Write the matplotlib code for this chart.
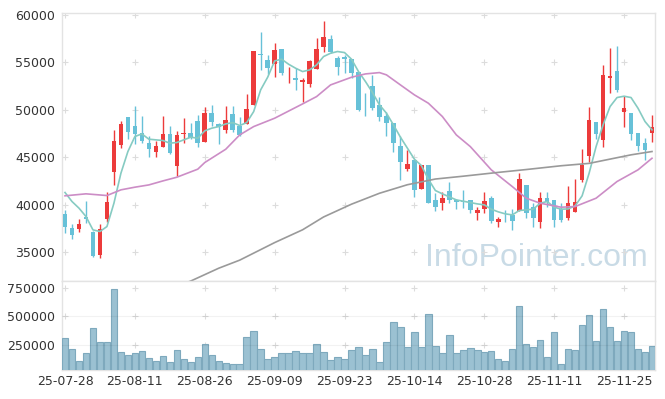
import matplotlib.pyplot as plt
import numpy as np

# trading days (yy-mm-dd)
dates = ['25-07-28', '25-07-29', '25-07-30', '25-07-31', '25-08-01',
         '25-08-04', '25-08-05', '25-08-06', '25-08-07', '25-08-08',
         '25-08-11', '25-08-12', '25-08-13', '25-08-14', '25-08-18',
         '25-08-19', '25-08-20', '25-08-21', '25-08-22', '25-08-25',
         '25-08-26', '25-08-27', '25-08-28', '25-08-29', '25-09-01',
         '25-09-02', '25-09-03', '25-09-04', '25-09-05', '25-09-08',
         '25-09-09', '25-09-10', '25-09-11', '25-09-12', '25-09-15',
         '25-09-16', '25-09-17', '25-09-18', '25-09-19', '25-09-22',
         '25-09-23', '25-09-24', '25-09-25', '25-09-26', '25-09-29',
         '25-09-30', '25-10-01', '25-10-02', '25-10-10', '25-10-13',
         '25-10-14', '25-10-15', '25-10-16', '25-10-17', '25-10-20',
         '25-10-21', '25-10-22', '25-10-23', '25-10-24', '25-10-27',
         '25-10-28', '25-10-29', '25-10-30', '25-10-31', '25-11-03',
         '25-11-04', '25-11-05', '25-11-06', '25-11-07', '25-11-10',
         '25-11-11', '25-11-12', '25-11-13', '25-11-14', '25-11-17',
         '25-11-18', '25-11-19', '25-11-20', '25-11-21', '25-11-24',
         '25-11-25', '25-11-26', '25-11-27', '25-11-28', '25-12-01']

opens = [39050, 37500, 37400, 38700, 37150, 34700, 38450, 43450, 46250, 49250,
         48300, 47500, 46550, 45500, 46100, 47450, 44100, 47400, 47550, 48850,
         46650, 49650, 48500, 47900, 49550, 48250, 48550, 50550, 55850, 55250,
         54800, 56400, 53950, 53350, 52900, 52700, 54250, 56650, 57450, 55450,
         55550, 55350, 54000, 50850, 52500, 50500, 49350, 48600, 46200, 43800,
         44700, 41600, 44200, 40500, 40200, 41400, 40450, 40400, 40450, 39100,
         39500, 40700, 38200, 38400, 38900, 39300, 42100, 39750, 38200, 40700,
         40500, 39500, 38550, 39250, 42650, 45150, 48700, 46800, 53300, 54100,
         49800, 49700, 47600, 46500, 47500]
highs = [39400, 38000, 38450, 40350, 37200, 37950, 41300, 47850, 48800, 49250,
         50400, 49350, 47250, 46700, 49350, 48250, 47800, 49150, 48600, 49500,
         50300, 50500, 48650, 50350, 50350, 49200, 51650, 56200, 58200, 55800,
         57000, 56400, 54500, 54400, 53350, 55250, 57550, 59350, 57900, 55700,
         55800, 55350, 54000, 51750, 53650, 51300, 49800, 48600, 47200, 45800,
         44700, 44200, 44200, 41200, 41300, 42350, 40550, 41500, 40450, 39800,
         41300, 40950, 38750, 39400, 39500, 43300, 42100, 40200, 41300, 41300,
         40500, 40150, 42000, 42700, 45850, 50250, 48700, 54700, 56500, 56750,
         51400, 49700, 47600, 47000, 49450]
lows = [37000, 36350, 37100, 38050, 34500, 34350, 38200, 42050, 46000, 46950,
        46400, 46550, 45050, 45000, 46100, 45300, 43050, 46550, 46900, 46100,
        46650, 48250, 46350, 47550, 47700, 47200, 48550, 50550, 54150, 53800,
        53500, 53650, 52800, 52050, 50800, 52400, 54250, 56050, 55950, 53650,
        53900, 53400, 49900, 49300, 50000, 48850, 47200, 45550, 42600, 43500,
        40800, 41600, 40150, 39300, 39400, 40150, 39500, 39650, 39100, 38400,
        39100, 38100, 37600, 38150, 37350, 39300, 38550, 37600, 37500, 39800,
        37600, 38200, 38400, 39250, 42350, 44450, 46900, 46050, 51750, 51900,
        48150, 46850, 45700, 44700, 46650]
closes = [37600, 36750, 37950, 38450, 34600, 37400, 40300, 46700, 48500, 47650,
          47400, 46750, 45900, 46200, 47450, 45450, 47350, 47550, 47050, 46550,
          49650, 48750, 48200, 48950, 47900, 47350, 50100, 56200, 55750, 54450,
          56300, 53900, 54000, 53100, 53150, 55150, 56400, 57700, 56100, 54550,
          55300, 53900, 50000, 50800, 50150, 49250, 48650, 46450, 44450, 44300,
          41500, 44200, 40200, 39750, 40700, 40450, 40250, 40300, 39450, 39400,
          40350, 38300, 38450, 38350, 38250, 42700, 39100, 38550, 40700, 40250,
          38350, 38400, 40200, 40300, 44200, 48950, 47450, 53700, 53550, 52050,
          50200, 47400, 46200, 45750, 48200]
volumes = [308000, 212000, 110000, 177000, 395000, 273000, 273000, 735000, 186000, 160000,
           177000, 195000, 134000, 108000, 151000, 99000, 204000, 125000, 99000, 143000,
           256000, 160000, 108000, 91000, 82000, 82000, 317000, 369000, 212000, 125000,
           143000, 177000, 177000, 195000, 177000, 177000, 256000, 186000, 118000, 143000,
           125000, 204000, 230000, 160000, 212000, 99000, 273000, 448000, 404000, 230000,
           360000, 230000, 517000, 238000, 177000, 334000, 177000, 204000, 221000, 204000,
           186000, 195000, 125000, 108000, 212000, 587000, 256000, 230000, 291000, 143000,
           360000, 82000, 212000, 206000, 422000, 510000, 283000, 561000, 404000, 283000,
           369000, 362000, 212000, 188000, 238000]

# moving averages
ma5 = [41280, 40330, 39630, 38750, 37340, 37170, 37690, 40150, 43310, 45600,
       47180, 47460, 46900, 46830, 46760, 46480, 46550, 46830, 47110, 47000,
       47780, 48060, 48230, 48510, 48650, 48340, 48650, 49810, 52100, 53430,
       55150, 55330, 54800, 54380, 54030, 54200, 54730, 55610, 55960, 56140,
       56030, 55330, 54030, 52970, 51820, 50520, 49640, 48410, 47110, 45950,
       44790, 44120, 42680, 41490, 41140, 40820, 40500, 40360, 40220, 40080,
       39980, 39520, 39240, 39030, 38920, 39380, 39450, 39520, 40150, 40330,
       39730, 39520, 39550, 39870, 40930, 43310, 46120, 48410, 50340, 51290,
       51430, 51290, 50160, 48760, 47880]
ma20_idx = [0, 3, 6, 8, 10, 12, 14, 16, 19, 20, 23, 25, 27, 30, 34, 36, 38, 41, 43,
            45, 46, 48, 50, 52, 54, 56, 58, 61, 64, 66, 68, 71, 73, 76, 79, 82, 84]
ma20 = [40930, 41140, 40960, 41560, 41840, 42080, 42500, 42890, 43740, 44440,
        45840, 47350, 48230, 49110, 50620, 51390, 52620, 53430, 53780, 53920,
        53680, 52620, 51570, 50690, 49290, 47350, 46120, 43670, 41910, 40680,
        40150, 39730, 39800, 40680, 42440, 43670, 44890]
ma120_idx = [16, 18, 22, 25, 30, 34, 37, 41, 45, 49, 53, 57, 62, 66, 71, 75, 78, 81, 84]
ma120 = [31400, 31950, 33300, 34150, 36000, 37350, 38700, 40050, 41200, 42100,
         42700, 43000, 43400, 43700, 44100, 44350, 44800, 45250, 45600]

up_color = '#ec3b3b'
down_color = '#67c1d8'
frame_color = '#e3e3e3'
text_color = '#333333'

fig = plt.figure(figsize=(6.65, 3.99), dpi=100)
ax = fig.add_axes([0.0925, 0.2957, 0.8932, 0.6717])
axv = fig.add_axes([0.0925, 0.0727, 0.8932, 0.2230], sharex=ax)

x = np.arange(len(dates))
o = np.array(opens)
c = np.array(closes)
cols = [up_color if cc >= oo else down_color for oo, cc in zip(o, c)]

# candles
ax.vlines(x, lows, highs, colors=cols, linewidth=1.0, zorder=3)
body = np.maximum(np.abs(c - o), 70)
ax.bar(x, body, bottom=np.minimum(o, c), width=0.66, color=cols, linewidth=0, zorder=4)

# moving averages
ax.plot(x, ma5, color='#86cbc2', lw=1.2, zorder=5)
ax.plot(ma20_idx, ma20, color='#cc8dc6', lw=1.2, zorder=5)
ax.plot(ma120_idx, ma120, color='#9a9a9a', lw=1.2, zorder=5)

ax.set_xlim(-0.5, len(dates) - 0.5)
ax.set_ylim(31950, 60200)
price_ticks = [35000, 40000, 45000, 50000, 55000, 60000]
ax.set_yticks(price_ticks)
ax.set_yticklabels([str(t) for t in price_ticks])

# watermark
ax.text(0.80, 0.085, 'InfoPointer.com', transform=ax.transAxes, ha='center', va='center',
        fontsize=23, color='#c9dbe6', family='Liberation Sans', zorder=1)

# volume
axv.bar(x, volumes, width=0.92, color='#9bc1d2', edgecolor='#7ea9bd', linewidth=0.8, zorder=3)
for t in [250000, 500000]:
    axv.axhline(t, color='#000000', alpha=0.05, lw=0.8, zorder=4)
axv.set_ylim(32000, 807000)
vol_ticks = [250000, 500000, 750000]
axv.set_yticks(vol_ticks)
axv.set_yticklabels([str(t) for t in vol_ticks])

tick_pos = list(range(0, len(dates), 10))
axv.set_xticks(tick_pos)
axv.set_xticklabels([dates[i] for i in tick_pos])

# small crosses at grid intersections
for a, yt in ((ax, price_ticks), (axv, vol_ticks)):
    gx, gy = np.meshgrid(tick_pos, yt)
    a.scatter(gx.ravel(), gy.ravel(), marker='+', s=16, color='#dcdcdc', linewidths=0.8, zorder=2)
    for s in a.spines.values():
        s.set_color(frame_color)
        s.set_linewidth(1.0)
    a.tick_params(length=0, labelsize=9, colors=text_color)

ax.tick_params(axis='y', pad=4.5)
axv.tick_params(axis='y', pad=4.5)
axv.tick_params(axis='x', pad=3.5)
ax.tick_params(axis='x', labelbottom=False)

fig.savefig('out.png', dpi=100)
